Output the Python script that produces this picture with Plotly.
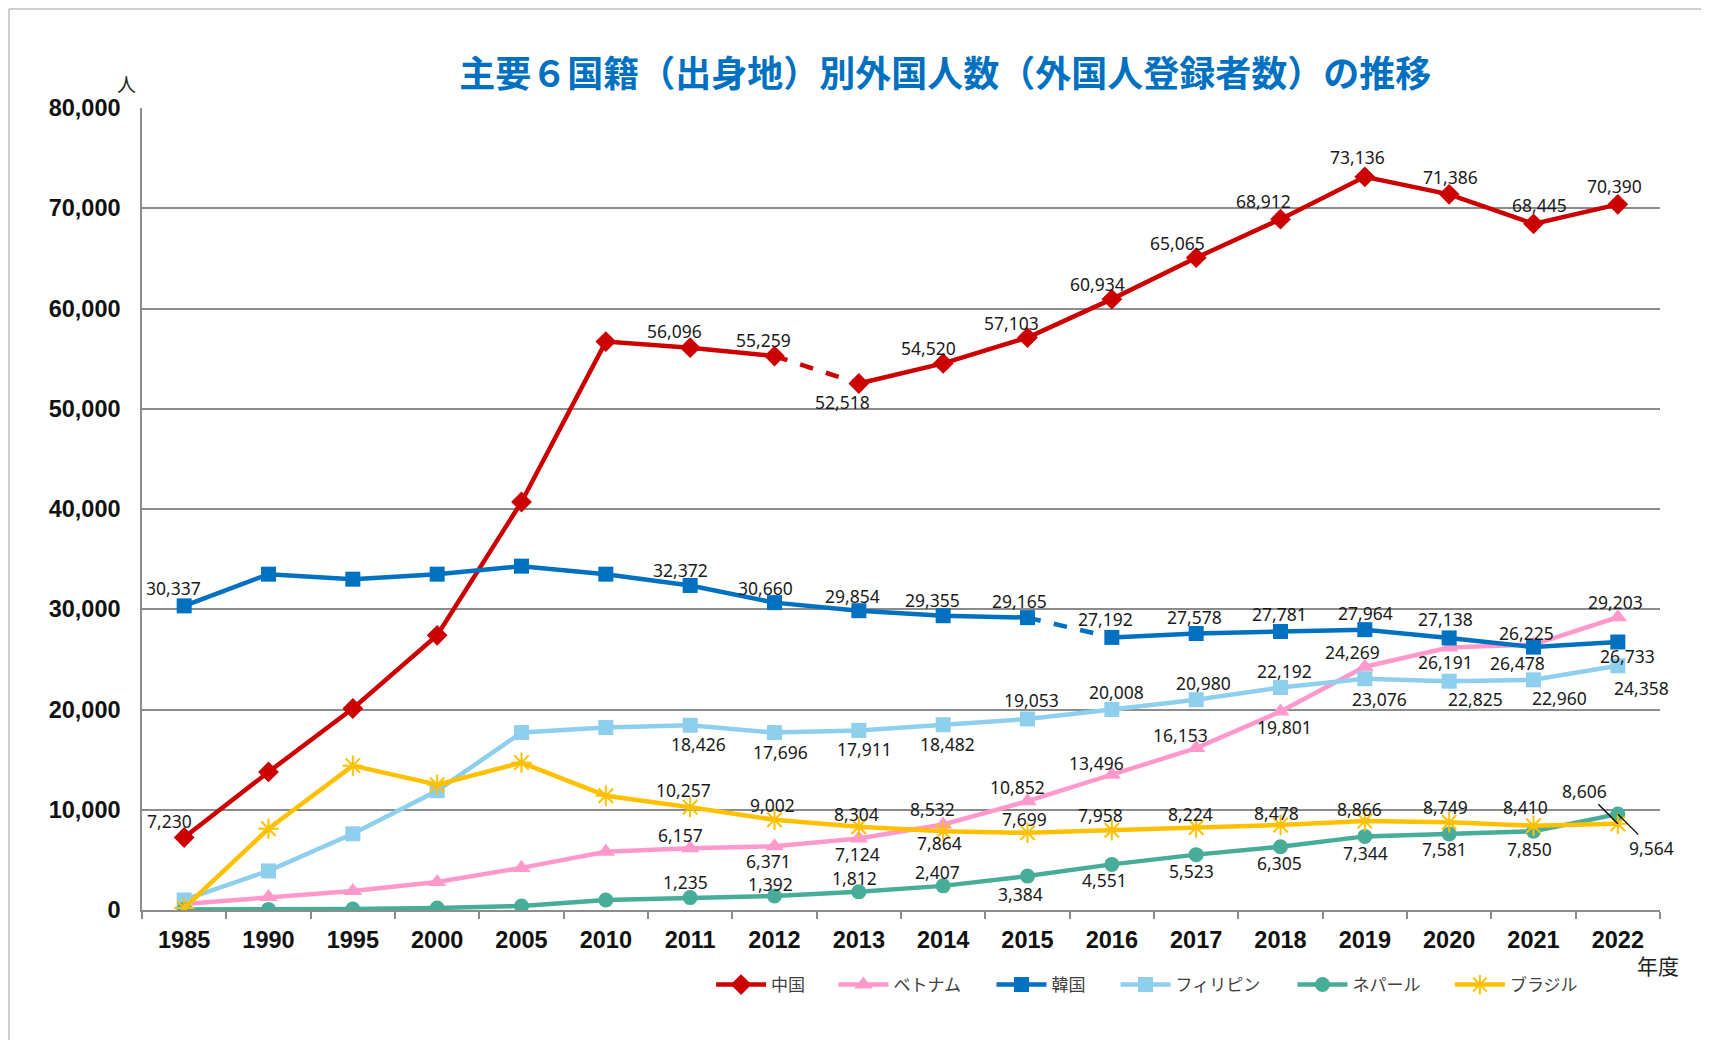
import plotly.graph_objects as go

# ---------------- data ----------------
years = ["1985", "1990", "1995", "2000", "2005", "2010", "2011", "2012", "2013",
         "2014", "2015", "2016", "2017", "2018", "2019", "2020", "2021", "2022"]

china = [7230, 13770, 20100, 27400, 40700, 56700, 56096, 55259, 52518,
         54520, 57103, 60934, 65065, 68912, 73136, 71386, 68445, 70390]
vietnam = [600, 1300, 1900, 2800, 4200, 5800, 6157, 6371, 7124,
           8532, 10852, 13496, 16153, 19801, 24269, 26191, 26478, 29203]
korea = [30337, 33500, 33000, 33500, 34300, 33500, 32372, 30660, 29854,
         29355, 29165, 27192, 27578, 27781, 27964, 27138, 26225, 26733]
philippines = [1000, 3900, 7600, 11900, 17700, 18200, 18426, 17696, 17911,
               18482, 19053, 20008, 20980, 22192, 23076, 22825, 22960, 24358]
nepal = [50, 60, 100, 200, 400, 1000, 1235, 1392, 1812,
         2407, 3384, 4551, 5523, 6305, 7344, 7581, 7850, 9564]
brazil = [200, 8100, 14400, 12500, 14700, 11400, 10257, 9002, 8304,
          7864, 7699, 7958, 8224, 8478, 8866, 8749, 8410, 8606]

names = ["中国", "ベトナム", "韓国", "フィリピン", "ネパール", "ブラジル"]
title_text = "主要６国籍（出身地）別外国人数（外国人登録者数）の推移"

# ---------------- styles ----------------
styles = {
    "中国": dict(color="#CC0000", symbol="diamond", size=16),
    "ベトナム": dict(color="#FF99CC", symbol="triangle-up", size=16),
    "韓国": dict(color="#0070C0", symbol="square", size=15),
    "フィリピン": dict(color="#8ECFEE", symbol="square", size=15),
    "ネパール": dict(color="#47AD99", symbol="circle", size=15),
    "ブラジル": dict(color="#FFC000", symbol="asterisk-open", size=17),
}
series = {"中国": china, "ベトナム": vietnam, "韓国": korea,
          "フィリピン": philippines, "ネパール": nepal, "ブラジル": brazil}
dashed = {"中国": 7, "韓国": 10}  # dashed segment start index

# data-label pixel offsets (dx right, dy down) for category indices 6..17 (2011-2022)
label_off = {
    "中国": [(-16, -17), (-11, -16), (-16, 18), (-15, -15), (-16, -15), (-14, -15),
             (-19, -15), (-17, -18), (-7, -20), (1, -17), (6, -19), (-3, -18)],
    "ベトナム": [(-10, -13), (-6, 15), (-1, 15), (-11, -15), (-10, -14), (-15, -12),
               (-16, -13), (4, 16), (-12, -15), (-4, 15), (-16, 18), (-2, -15)],
    "韓国": [(-10, -15), (-9, -15), (-6, -15), (-11, -16), (-8, -17), (-6, -18),
             (-2, -17), (-1, -18), (1, -17), (-4, -19), (-7, -14), (10, 14)],
    "フィリピン": [(8, 19), (6, 19), (6, 19), (4, 19), (4, -19), (5, -17),
               (7, -17), (4, -17), (15, 20), (26, 18), (26, 18), (24, 22)],
    "ネパール": [(-5, -16), (-4, -12), (-4, -14), (-6, -14), (-7, 18), (-7, 16),
             (-5, 16), (-1, 16), (1, 17), (-5, 15), (-4, 18), None],
    "ブラジル": [(-7, -17), (-2, -15), (-2, -13), (-4, 12), (-3, -14), (-11, -15),
             (-6, -14), (-4, -12), (-5, -12), (-4, -15), (-8, -19), None],
}
first_label = {"中国": (-15, -17), "韓国": (-11, -18)}
leader = {"ネパール": (34, 34), "ブラジル": (-33, -33)}  # 2022 labels with leader lines

# legend item starts (paper x) for each series
legend_x = [0.3749, 0.4555, 0.5596, 0.6413, 0.7579, 0.8616]

LINE_W = 4.5
GRID = "#8C8C8C"
LABEL_FONT = dict(family="Noto Sans, Liberation Sans, sans-serif", size=17.5, color="#1A1A1A")
TICK_FONT = dict(family="Liberation Sans, Arial, sans-serif", size=23.5, color="#111111", weight="bold")

fig = go.Figure()

for n, name in enumerate(names):
    vals = series[name]
    st = styles[name]
    lg = "legend" if n == 0 else f"legend{n + 1}"
    marker = dict(symbol=st["symbol"], size=st["size"], color=st["color"],
                  line=dict(color=st["color"], width=2 if st["symbol"] == "asterisk-open" else 0))
    common = dict(legendgroup=name, legend=lg, hoverinfo="x+y+name", name=name)
    if name in dashed:
        k = dashed[name]
        fig.add_trace(go.Scatter(x=years[:k + 1], y=vals[:k + 1], mode="lines+markers",
                                 line=dict(color=st["color"], width=LINE_W), marker=marker, **common))
        fig.add_trace(go.Scatter(x=years[k:k + 2], y=vals[k:k + 2], mode="lines", showlegend=False,
                                 line=dict(color=st["color"], width=LINE_W, dash="dash"), **common))
        fig.add_trace(go.Scatter(x=years[k + 1:], y=vals[k + 1:], mode="lines+markers", showlegend=False,
                                 line=dict(color=st["color"], width=LINE_W), marker=marker, **common))
    else:
        fig.add_trace(go.Scatter(x=years, y=vals, mode="lines+markers",
                                 line=dict(color=st["color"], width=LINE_W), marker=marker, **common))

annotations = []
for name in names:
    vals = series[name]
    if name in first_label:
        dx, dy = first_label[name]
        annotations.append(dict(x=0, y=vals[0], text=f"{vals[0]:,}", showarrow=False,
                                xshift=dx, yshift=-dy, font=LABEL_FONT))
    for j, off in enumerate(label_off[name]):
        i = 6 + j  # category index on the x axis
        txt = f"{vals[i]:,}"
        if off is None:
            ax, ay = leader[name]
            annotations.append(dict(x=i, y=vals[i], text=txt, showarrow=True, arrowhead=0,
                                    arrowwidth=1.3, arrowcolor="#000000", ax=ax, ay=ay,
                                    standoff=0, startstandoff=0, font=LABEL_FONT))
        else:
            dx, dy = off
            annotations.append(dict(x=i, y=vals[i], text=txt, showarrow=False,
                                    xshift=dx, yshift=-dy, font=LABEL_FONT))

# axis unit labels
annotations.append(dict(xref="paper", yref="paper", x=-0.0099, y=1.031, xanchor="center", yanchor="middle",
                        text="人", showarrow=False,
                        font=dict(family="Noto Sans CJK JP", size=19, color="#222222")))
annotations.append(dict(xref="paper", yref="paper", x=0.9987, y=-0.0686, xanchor="center", yanchor="middle",
                        text="年度", showarrow=False,
                        font=dict(family="Noto Sans CJK JP", size=21, color="#222222")))

shapes = [
    dict(type="line", xref="paper", yref="paper", x0=-0.0876, x1=1.04, y0=1.1234, y1=1.1234,
         line=dict(color="#BFBFBF", width=1.5)),
    dict(type="line", xref="paper", yref="paper", x0=-0.0876, x1=-0.0876, y0=1.1234, y1=-0.17,
         line=dict(color="#BFBFBF", width=1.5)),
]

legend_base = dict(orientation="h", xanchor="left", y=-0.0935, yanchor="middle",
                   font=dict(family="Noto Sans CJK JP", size=17, color="#404040"),
                   bgcolor="rgba(0,0,0,0)", itemwidth=50)
legends = {}
for n, lx in enumerate(legend_x):
    key = "legend" if n == 0 else f"legend{n + 1}"
    legends[key] = dict(legend_base, x=lx)

fig.update_layout(
    width=1701, height=1032,
    margin=dict(l=134, r=49, t=100, b=130),
    paper_bgcolor="white", plot_bgcolor="white",
    title=dict(text=title_text, x=0.551, xanchor="center", y=0.936, yanchor="middle",
               font=dict(family="Noto Sans CJK JP", size=36, color="#0070C0", weight="bold")),
    showlegend=True,
    annotations=annotations,
    shapes=shapes,
    hovermode="closest",
    **legends,
)

fig.update_xaxes(type="category", range=[-0.5, 17.5], showline=True, linecolor=GRID, linewidth=1.5,
                 ticks="outside", tickson="boundaries", ticklen=7, tickcolor=GRID, tickwidth=1.5,
                 showgrid=False, ticklabelstandoff=8, tickfont=TICK_FONT)
fig.update_yaxes(range=[0, 80000], dtick=10000, tickformat=",", showgrid=True, gridcolor=GRID, gridwidth=1.5,
                 showline=True, linecolor=GRID, linewidth=1.5, ticks="", zeroline=False, ticklabelstandoff=15,
                 tickfont=TICK_FONT)

fig.write_html("out.html")
